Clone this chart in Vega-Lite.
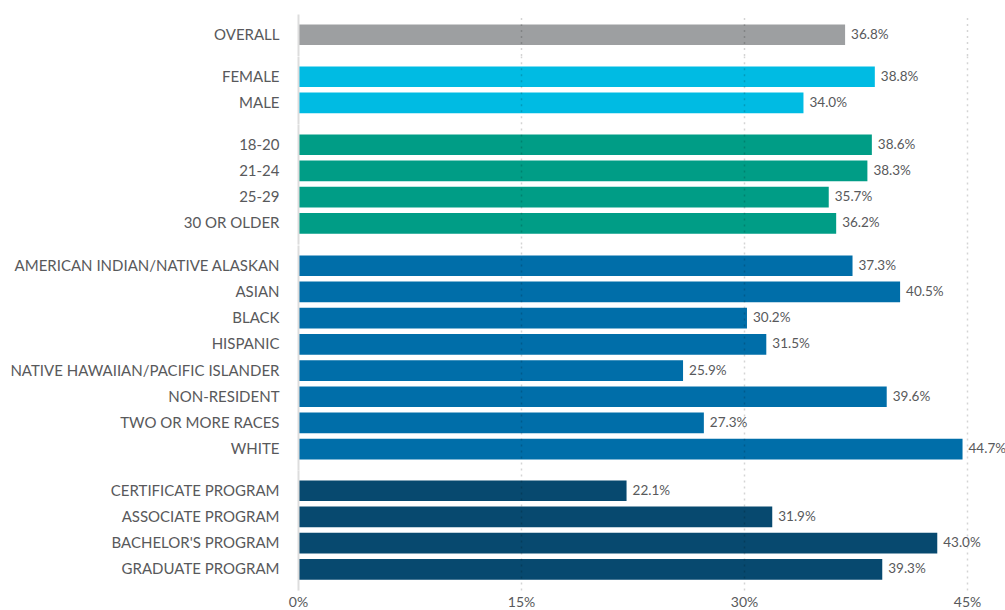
{
  "$schema": "https://vega.github.io/schema/vega-lite/v6.json",
  "padding": {"left": 9, "top": 14, "right": 0, "bottom": 0},
  "background": "white",
  "data": {
    "values": [
      {"group": "OVERALL", "label": "OVERALL", "value": 0.368},
      {"group": "GENDER", "label": "FEMALE", "value": 0.388},
      {"group": "GENDER", "label": "MALE", "value": 0.340},
      {"group": "AGE", "label": "18-20", "value": 0.386},
      {"group": "AGE", "label": "21-24", "value": 0.383},
      {"group": "AGE", "label": "25-29", "value": 0.357},
      {"group": "AGE", "label": "30 OR OLDER", "value": 0.362},
      {"group": "RACE", "label": "AMERICAN INDIAN/NATIVE ALASKAN", "value": 0.373},
      {"group": "RACE", "label": "ASIAN", "value": 0.405},
      {"group": "RACE", "label": "BLACK", "value": 0.302},
      {"group": "RACE", "label": "HISPANIC", "value": 0.315},
      {"group": "RACE", "label": "NATIVE HAWAIIAN/PACIFIC ISLANDER", "value": 0.259},
      {"group": "RACE", "label": "NON-RESIDENT", "value": 0.396},
      {"group": "RACE", "label": "TWO OR MORE RACES", "value": 0.273},
      {"group": "RACE", "label": "WHITE", "value": 0.447},
      {"group": "PROGRAM", "label": "CERTIFICATE PROGRAM", "value": 0.221},
      {"group": "PROGRAM", "label": "ASSOCIATE PROGRAM", "value": 0.319},
      {"group": "PROGRAM", "label": "BACHELOR'S PROGRAM", "value": 0.430},
      {"group": "PROGRAM", "label": "GRADUATE PROGRAM", "value": 0.393}
    ]
  },
  "facet": {
    "row": {"field": "group", "type": "nominal", "sort": ["OVERALL", "GENDER", "AGE", "RACE", "PROGRAM"], "header": null}
  },
  "spacing": {"row": 0},
  "resolve": {"scale": {"y": "independent"}},
  "spec": {
    "width": 669,
    "height": {"step": 26.2},
    "encoding": {
      "y": {
        "field": "label", "type": "nominal", "sort": null,
        "scale": {"paddingInner": 0.21, "paddingOuter": 0.397},
        "axis": {"title": null, "domain": false, "ticks": false, "grid": false, "labelPadding": 19, "labelFontSize": 15, "labelColor": "#58595b", "labelLimit": 400, "labelFont": "Lato"}
      },
      "x": {
        "field": "value", "type": "quantitative",
        "scale": {"domain": [0, 0.45], "nice": false},
        "axis": {
          "title": null, "values": [0, 0.15, 0.3, 0.45], "format": ".0%", "labelFlush": false,
          "domain": false, "ticks": false, "labelPadding": 4, "labelFontSize": 14, "labelColor": "#58595b", "labelFont": "Lato",
          "grid": true, "zindex": 1,
          "gridColor": {"condition": {"test": "datum.value === 0", "value": "#dddddd"}, "value": "#000000"},
          "gridOpacity": {"condition": {"test": "datum.value === 0", "value": 1}, "value": 0.17},
          "gridDash": {"condition": {"test": "datum.value === 0", "value": []}, "value": [2, 4]},
          "gridWidth": {"condition": {"test": "datum.value === 0", "value": 2}, "value": 1.5}
        }
      }
    },
    "layer": [
      {
        "mark": {"type": "bar"},
        "encoding": {
          "color": {
            "field": "group", "type": "nominal", "legend": null,
            "scale": {"domain": ["OVERALL", "GENDER", "AGE", "RACE", "PROGRAM"], "range": ["#9d9fa1", "#00bbe3", "#009d86", "#006ea9", "#07496f"]}
          }
        }
      },
      {
        "mark": {"type": "text", "align": "left", "baseline": "middle", "dx": 6, "fontSize": 13.5, "font": "Lato", "color": "#58595b"},
        "encoding": {"text": {"field": "value", "type": "quantitative", "format": ".1%"}}
      }
    ]
  },
  "config": {"view": {"stroke": null}, "font": "Lato"}
}
